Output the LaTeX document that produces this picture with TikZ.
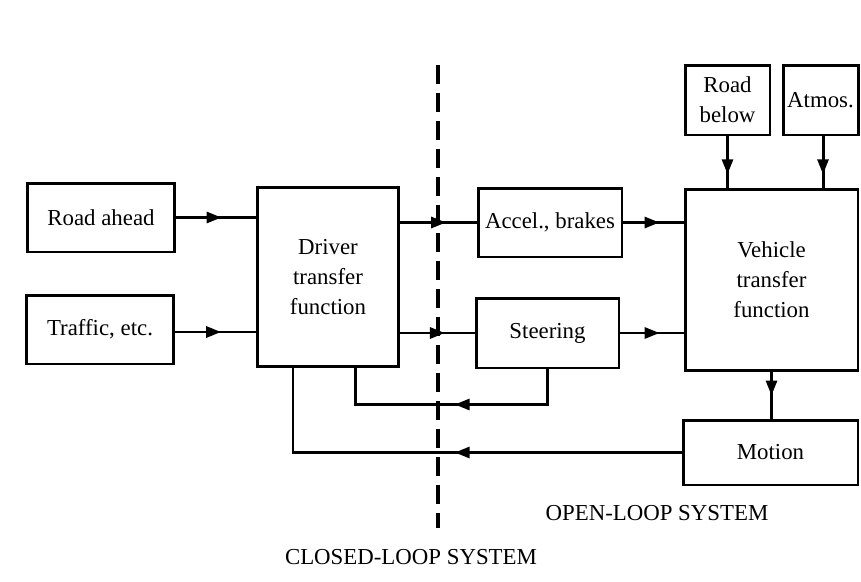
\documentclass[tikz,border=0pt]{standalone}
\usepackage{fontspec}
\setmainfont{Liberation Serif}
\usetikzlibrary{calc, positioning, arrows.meta, decorations.markings}

\tikzset{
	block/.style={draw, line width=1.7pt, inner sep=0pt, align=center, font=\fontsize{13}{17}\selectfont},
	flow/.style={line width=1.7pt, postaction={decorate, decoration={markings, mark=at position #1 with {\arrow{Triangle[length=3mm, width=2.2mm]}}}}},
	flow/.default=0.6
}

\begin{document}
\begin{tikzpicture}[x=0.02cm, y=-0.02cm]
			\useasboundingbox (0,0) rectangle (861,581);
			% inputs and driver
			\path node[block, minimum width=2.96cm, minimum height=1.38cm] (road ahead) at (101,217.5) {Road ahead};
			\path node[block, minimum width=2.96cm, minimum height=1.38cm] (traffic) at (100,329.5) {Traffic, etc.};
			\path node[block, minimum width=2.84cm, minimum height=3.6cm] (driver) at (328,277) {Driver\\transfer\\function};
			% controls
			\path node[block, minimum width=2.88cm, minimum height=1.38cm] (accel) at (550,222.5) {Accel., brakes};
			\path node[block, minimum width=2.86cm, minimum height=1.4cm] (steering) at (547.5,333) {Steering};
			% vehicle side
			\path node[block, minimum width=3.46cm, minimum height=3.64cm] (vehicle) at (771.5,280) {Vehicle\\transfer\\function};
			\path node[block, minimum width=1.7cm, minimum height=1.4cm] (road below) at (727.5,100) {Road\\below};
			\path node[block, minimum width=1.5cm, minimum height=1.4cm] (atmos) at (820.5,100) {Atmos.};
			\path node[block, minimum width=3.5cm, minimum height=1.3cm] (motion) at (770.5,452.5) {Motion};

			\draw[flow=0.57] (road ahead.east) -- (road ahead.east -| driver.west);
			\draw[flow=0.57] (traffic.east |- 0,332) coordinate (tr) -- (tr -| driver.west);
			\draw[flow=0.6] (accel.west -| driver.east) -- (accel.west);
			\draw[flow=0.6] (steering.west -| driver.east) -- (steering.west);
			\draw[flow=0.6] (accel.east) -- (accel.east -| vehicle.west);
			\draw[flow=0.62] (steering.east) -- (steering.east -| vehicle.west);
			\draw[flow=0.74] (road below.south) -- (road below.south |- vehicle.north);
			\draw[flow=0.74] (atmos.south -| 823,0) coordinate (at) -- (at |- vehicle.north);
			\draw[flow=0.5] (vehicle.south) -- (motion.north -| vehicle.south);

			% feedback loops
			\path (driver.south) ++ (27,0) coordinate (fb 1);
			\path (driver.south) ++ (-35,0) coordinate (fb 2);
			\draw[flow=0.485] (steering.south) -- ++ (0,35) -| (fb 1);
			\draw[flow=0.48] (motion.west) -| (fb 2);

			% system boundary
			\draw[line width=2pt, dash pattern=on 0.38cm off 0.18cm] (438,65) -- (438,528);
			\path node[font=\fontsize{13}{17}\selectfont] (open label) at (657,513) {OPEN-LOOP SYSTEM};
			\path node[font=\fontsize{13}{17}\selectfont] (closed label) at (411,557) {CLOSED-LOOP SYSTEM};
		\end{tikzpicture}
\end{document}
